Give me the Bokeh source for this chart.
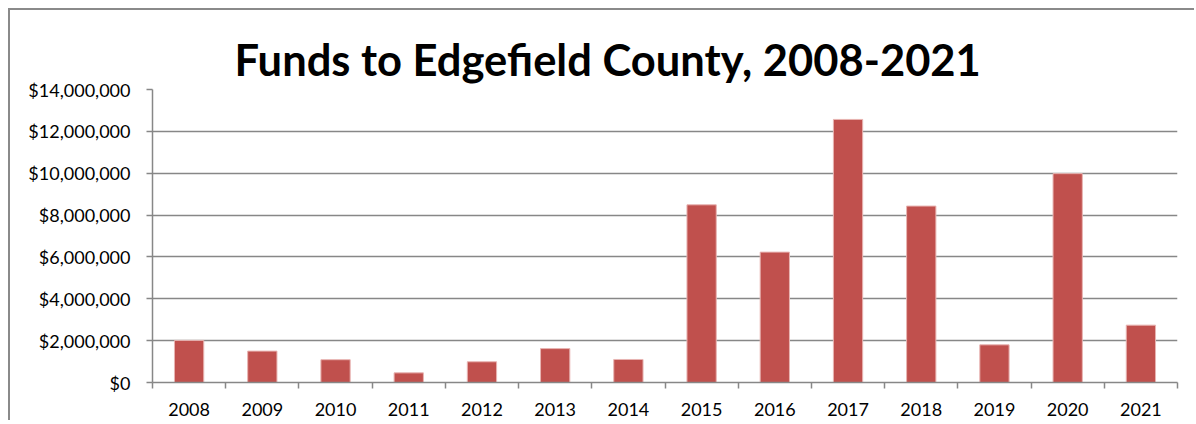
from bokeh.plotting import figure
from bokeh.models import Range1d, FixedTicker, NumeralTickFormatter
from bokeh.embed import file_html
from bokeh.resources import INLINE

# ---- data ----
years = ["2008", "2009", "2010", "2011", "2012", "2013", "2014",
         "2015", "2016", "2017", "2018", "2019", "2020", "2021"]
funds = [2010000, 1500000, 1090000, 460000, 990000, 1620000, 1100000,
         8490000, 6230000, 12570000, 8430000, 1800000, 9980000, 2740000]
y_ticks = [0, 2000000, 4000000, 6000000, 8000000, 10000000, 12000000, 14000000]
title_text = "Funds to Edgefield County, 2008-2021"

FONT = "Lato"
GRID = "#878787"
BAR = "#C0504D"

n = len(years)
centers = [i + 0.5 for i in range(n)]

p = figure(width=1186, height=412, output_backend="svg", toolbar_location=None,
           x_range=Range1d(0, n), y_range=Range1d(0, 14000000),
           min_border_left=142, min_border_right=19, min_border_top=79,
           min_border_bottom=40)
p.styles = {"border-left": "2px solid #8a8a8a", "border-top": "2px solid #8a8a8a",
            "margin-left": "8px", "margin-top": "8px"}

p.title.text = title_text
p.title.text_font = FONT
p.title.text_font_style = "bold"
p.title.text_font_size = "43.5px"
p.title.text_color = "#000000"
p.title.align = "left"
p.title.offset = 82
p.title.standoff = 10

p.outline_line_color = None
p.background_fill_color = "white"
p.border_fill_color = "white"

p.vbar(x=centers, top=funds, width=0.4, fill_color=BAR,
       line_color="#E8B4B2", line_width=1)

# x axis: labels at centres, ticks at category boundaries
xa = p.xaxis[0]
xa.ticker = FixedTicker(ticks=centers, minor_ticks=list(range(n + 1)))
xa.major_label_overrides = {c: y for c, y in zip(centers, years)}
xa.major_tick_out = 0
xa.major_tick_in = 0
xa.minor_tick_out = 6
xa.minor_tick_in = 0
xa.minor_tick_line_color = GRID
xa.minor_tick_line_width = 1.5
xa.axis_line_color = GRID
xa.axis_line_width = 1.5
xa.major_label_text_font = FONT
xa.major_label_text_font_size = "18px"
xa.major_label_text_color = "#000000"
xa.major_label_standoff = 14

ya = p.yaxis[0]
ya.ticker = FixedTicker(ticks=y_ticks)
ya.formatter = NumeralTickFormatter(format="$0,0")
ya.major_tick_out = 6
ya.major_tick_in = 0
ya.minor_tick_line_color = None
ya.major_tick_line_color = GRID
ya.major_tick_line_width = 1.5
ya.axis_line_color = GRID
ya.axis_line_width = 1.5
ya.major_label_text_font = FONT
ya.major_label_text_font_size = "18px"
ya.major_label_text_color = "#000000"
ya.major_label_standoff = 16

p.xgrid.grid_line_color = None
p.ygrid.grid_line_color = GRID
p.ygrid.grid_line_width = 1.5

open("out.html", "w").write(file_html(p, INLINE))
